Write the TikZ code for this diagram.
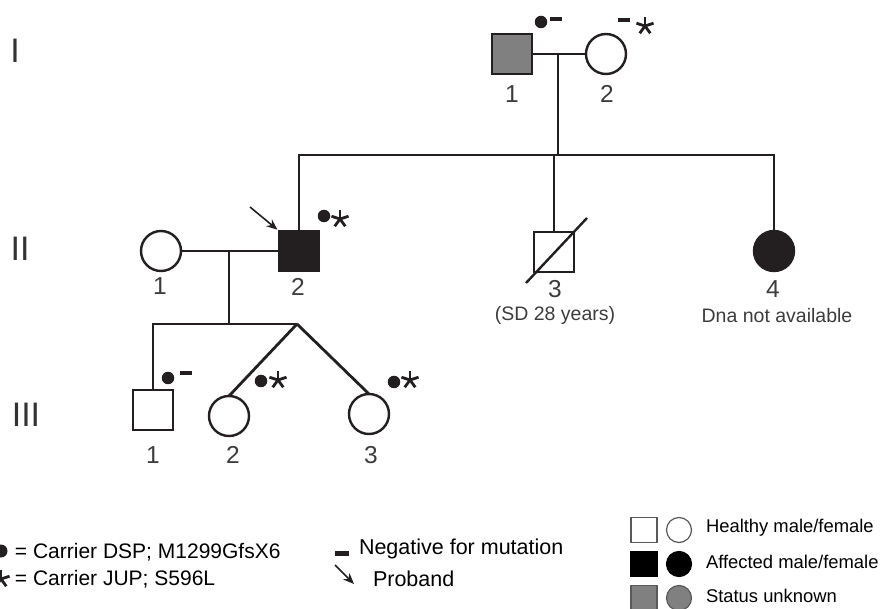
\documentclass[tikz,border=0pt]{standalone}
\usepackage{fontspec}
\setmainfont{Liberation Sans}
\usetikzlibrary{arrows.meta, positioning}
\definecolor{inkdark}{RGB}{35,31,32}
\definecolor{labelgray}{RGB}{60,60,60}
\definecolor{unknowngray}{RGB}{128,128,128}
\tikzset{
  jstar/.pic={\foreach \a in {-90,-18,54,126,198} {\draw[inkdark, line width=2.8pt] (0,0) -- (\a:9);}}
}
\begin{document}
\begin{tikzpicture}[
    x=1pt, y=-1pt,
    every node/.style={inner sep=0pt, outer sep=0pt},
    male/.style={rectangle, draw=inkdark, line width=2.4pt, minimum size=40pt, fill=white},
    female/.style={circle, draw=inkdark, line width=2.4pt, minimum size=40pt, fill=white},
    affected/.style={fill=inkdark},
    unknown/.style={fill=unknowngray},
    link/.style={draw=inkdark, line width=2.8pt},
    arrow/.style={-{Stealth[length=11pt, width=9pt]}, line width=1.6pt, inkdark},
    dsp/.style={circle, fill=inkdark, minimum size=12.5pt},
    neg/.style={rectangle, fill=inkdark, minimum width=12pt, minimum height=3.2pt},
    idnum/.style={font=\fontsize{24.5}{24.5}\selectfont, text=labelgray},
    gen/.style={font=\fontsize{34}{34}\selectfont, text=black!80},
    note/.style={font=\fontsize{19.5}{19.5}\selectfont, text=labelgray},
    legtext/.style={font=\fontsize{21}{21}\selectfont, text=black, anchor=west},
    legbox/.style={rectangle, draw=black!65, line width=1.2pt, minimum width=26pt, minimum height=25pt},
    legdisc/.style={circle, draw=black!65, line width=1.2pt, minimum size=25pt}
]
\useasboundingbox (0,0) rectangle (884,609);
% generations
\node[gen] (genI) at (15,51) {I};
\node[gen] (genII) at (20,249) {II};
\node[gen] (genIII) at (26,415) {III};
% generation I
\node[male, unknown] (I1) at (512,54) {};
\node[female] (I2) at (606,54) {};
\node[idnum] at (512,94) {1};
\node[idnum] at (607,94) {2};
\draw[link] (I1.east) -- (I2.west);
\node[dsp] (dI1) at (541,22) {};
\node[neg] (nI1) at (556,19) {};
\node[neg] (nI2) at (624,20) {};
\pic at (645,26) {jstar};
% generation II
\node[female] (II1) at (161,251) {};
\node[male, affected] (II2) at (299,251) {};
\node[male] (II3) at (554,252) {};
\node[female, affected] (II4) at (774,251) {};
\node[idnum] at (160,286) {1};
\node[idnum] at (298,287) {2};
\node[idnum] at (555,289) {3};
\node[idnum] at (773,289) {4};
\node[note] at (555,315) {(SD 28 years)};
\node[note] at (777,316) {Dna not available};
\draw[inkdark, line width=2.4pt] (526,283) -- (587,218);
\coordinate (mI) at (558,54);
\coordinate (sibI) at (558,155);
\draw[link] (mI) -- (sibI);
\draw[link] (II2.north) |- (sibI) -| (II4.north);
\draw[link] (II3.north) -- (II3.north |- sibI);
\draw[link] (II1.east) -- (II2.west);
\coordinate (probandtail) at (250,207);
\draw[arrow, shorten >=2pt] (probandtail) -- (II2.north west);
\node[dsp] (dII2) at (324,216) {};
\pic at (340,219) {jstar};
% generation III
\node[male] (III1) at (153,410) {};
\node[female] (III2) at (229,416) {};
\node[female] (III3) at (369,414) {};
\node[idnum] at (153,455) {1};
\node[idnum] at (233,455) {2};
\node[idnum] at (371,455) {3};
\coordinate (mII) at (229,251);
\coordinate (sibII) at (229,324);
\coordinate (twin) at (297,324);
\draw[link] (mII) -- (sibII);
\draw[link] (III1.north) |- (twin);
\draw[link] (twin) -- (III2.north);
\draw[link] (twin) -- (III3.north);
\node[dsp] (dIII1) at (168,378) {};
\node[neg] (nIII1) at (186,373) {};
\node[dsp] (dIII2) at (261,381) {};
\pic at (278,380) {jstar};
\node[dsp] (dIII3) at (394,382) {};
\pic at (410,380) {jstar};
% legend
\node[dsp, minimum size=13pt] (legdsp) at (1,551) {};
\node[legtext] (legdsptext) at (15,552) {= Carrier DSP; M1299GfsX6};
\pic at (1,579) {jstar};
\node[legtext] (legjuptext) at (15,579) {= Carrier JUP; S596L};
\node[neg, minimum width=14pt, minimum height=5pt] (legneg) at (342,553) {};
\node[legtext, font=\fontsize{21.5}{21.5}\selectfont] (legnegtext) at (359,549) {Negative for mutation};
\coordinate (legarrowtail) at (335,565);
\coordinate (legarrowtip) at (354,584);
\draw[arrow] (legarrowtail) -- (legarrowtip);
\node[legtext, font=\fontsize{21.5}{21.5}\selectfont] (legproband) at (373,579) {Proband};
\node[legbox, fill=white] (healthym) at (644,530) {};
\node[legdisc, fill=white] (healthyf) at (679,530) {};
\node[legbox, draw=black, fill=black] (affm) at (644,564) {};
\node[legdisc, draw=black, fill=black] (afff) at (679,564) {};
\node[legbox, fill=unknowngray] (unkm) at (644,598) {};
\node[legdisc, fill=unknowngray] (unkf) at (679,598) {};
\node[legtext, font=\fontsize{18.4}{18.4}\selectfont] at (706,528) {Healthy male/female};
\node[legtext, font=\fontsize{18.4}{18.4}\selectfont] at (706,562) {Affected male/female};
\node[legtext, font=\fontsize{18.4}{18.4}\selectfont] at (706,596) {Status unknown};
\end{tikzpicture}
\end{document}
